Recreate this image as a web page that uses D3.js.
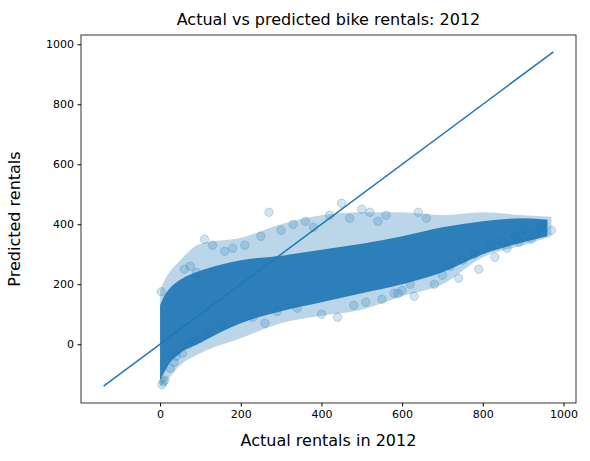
<!DOCTYPE html><html><head><meta charset="utf-8">
<script src="https://cdn.jsdelivr.net/npm/d3@7"></script>
<style>body{margin:0;background:#fff}text{font-family:"DejaVu Sans",sans-serif}</style></head><body>
<svg id="c" width="590" height="461"></svg>
<script>
const title = "Actual vs predicted bike rentals: 2012";
const xLabel = "Actual rentals in 2012", yLabel = "Predicted rentals";
const xTicks = [0,200,400,600,800,1000], yTicks = [0,200,400,600,800,1000];
const lineData = [[-140,-140],[975,975]];
// dense core band: actual, lower predicted, upper predicted
const coreX  = [0,   10,  20,  50, 100,150,200,300,400,500,600,700,800,900,960];
const coreLo = [-120,-95, -70, -30, 5, 40, 70,110,140,170,200,240,300,340,360];
const coreHi = [130, 160, 180, 215,245,265,280,295,315,335,360,390,410,420,415];
// lighter outer band
const outX  = [0,   10,  50, 100,200,300,400,500,600,700,800,900,970];
const outLo = [-140,-130,-70,-30, 20, 70,95,115,160,200,290,330,360];
const outHi = [180, 210, 280,335,355,400,430,440,440,430,440,430,425];
// scattered points (actual, predicted)
const ptsX = [5,8,12,3,60,75,90,110,130,160,180,210,250,270,300,330,360,380,420,450,470,500,520,540,560,580,600,620,640,660,700,720,750,780,820,850,880,900,930,950,970,40,70,120,150,230,260,290,340,400,440,480,510,550,590,630,680,740,790,830,860,890,920,945,25,35,55,85,100];
const ptsY = [-135,-125,-120,175,250,260,240,350,330,310,320,330,360,440,380,400,410,390,430,470,420,450,440,410,430,170,180,200,440,420,230,260,280,300,330,340,360,380,370,400,380,-40,0,40,60,90,70,110,120,100,90,130,140,150,170,160,200,220,250,290,320,340,350,390,-80,-60,-30,10,20];
const W=590,H=461,m={l:81,r:576,t:35,b:403};
const x=d3.scaleLinear().domain([-196,1031]).range([m.l,m.r]);
const y=d3.scaleLinear().domain([-196,1031]).range([m.b,m.t]);
const svg=d3.select("#c"), c="#1f77b4";
const g=svg.append("g");
const area=(xs,lo,hi)=>d3.area().x((d,i)=>x(xs[i])).y0((d,i)=>y(lo[i])).y1((d,i)=>y(hi[i])).curve(d3.curveMonotoneX)(xs);
g.append("path").attr("d",area(outX,outLo,outHi)).attr("fill",c).attr("opacity",0.3);
g.append("path").attr("d",area(coreX,coreLo,coreHi)).attr("fill",c).attr("opacity",0.92);
g.selectAll("circle").data(ptsX).join("circle").attr("cx",d=>x(d)).attr("cy",(d,i)=>y(ptsY[i])).attr("r",4.2).attr("fill",c).attr("fill-opacity",0.2).attr("stroke",c).attr("stroke-opacity",0.25);
g.append("path").attr("d",d3.line().x(d=>x(d[0])).y(d=>y(d[1]))(lineData)).attr("stroke",c).attr("stroke-width",1.5).attr("fill","none");
svg.append("rect").attr("x",m.l).attr("y",m.t).attr("width",m.r-m.l).attr("height",m.b-m.t).attr("fill","none").attr("stroke","#000").attr("stroke-width",0.8);
const fmt=d3.format("d");
svg.append("g").attr("transform",`translate(0,${m.b})`).call(d3.axisBottom(x).tickValues(xTicks).tickFormat(fmt).tickSize(3.5).tickPadding(3.5)).call(a=>{a.select(".domain").remove();a.selectAll("text").attr("font-size",11).attr("fill","#000")});
svg.append("g").attr("transform",`translate(${m.l},0)`).call(d3.axisLeft(y).tickValues(yTicks).tickFormat(fmt).tickSize(3.5).tickPadding(3.5)).call(a=>{a.select(".domain").remove();a.selectAll("text").attr("font-size",11).attr("fill","#000")});
svg.append("text").attr("x",(m.l+m.r)/2).attr("y",25).attr("text-anchor","middle").attr("font-size",16).text(title);
svg.append("text").attr("x",(m.l+m.r)/2).attr("y",446).attr("text-anchor","middle").attr("font-size",16).text(xLabel);
svg.append("text").attr("transform",`translate(20,${(m.t+m.b)/2}) rotate(-90)`).attr("text-anchor","middle").attr("font-size",16).text(yLabel);
</script></body></html>
